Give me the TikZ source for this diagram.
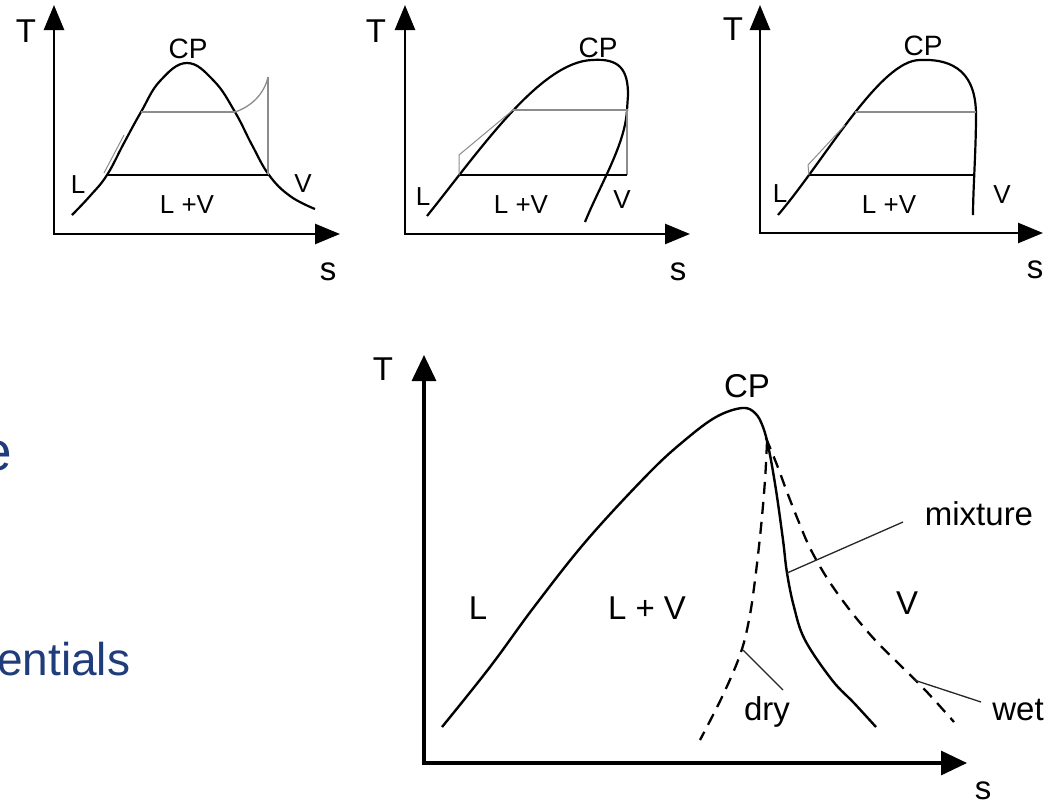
\documentclass[tikz,border=0pt]{standalone}
\usepackage{fontspec}
\setmainfont{Liberation Sans}
\usetikzlibrary{arrows.meta}
\definecolor{navy}{HTML}{1F3D7A}
\definecolor{cyclegray}{gray}{0.55}
\tikzset{
  axis/.style={line width=2.6pt, {Triangle[width=20pt,length=25pt]}-{Triangle[width=20pt,length=25pt]}},
  bigaxis/.style={line width=3.2pt, {Triangle[width=24pt,length=26pt]}-{Triangle[width=24pt,length=26pt]}},
  dome/.style={line width=2.2pt, line join=round},
  bigdome/.style={line width=2.4pt, line join=round},
  gline/.style={line width=1.3pt, draw=cyclegray},
  hline/.style={line width=1.8pt},
  dashcurve/.style={line width=2.3pt, dash pattern=on 12pt off 8pt},
  leader/.style={line width=1.3pt, draw=black!85},
  axlbl/.style={font=\fontsize{33}{36}\selectfont, inner sep=0pt, anchor=base},
  cplbl/.style={font=\fontsize{28}{32}\selectfont, inner sep=0pt, anchor=base},
  rlbl/.style={font=\fontsize{26}{30}\selectfont, inner sep=0pt, anchor=base},
  biglbl/.style={font=\fontsize{33}{38}\selectfont, inner sep=0pt, anchor=base},
  sidetext/.style={text=navy, inner sep=0pt}
}
\begin{document}
\begin{tikzpicture}[x=1pt,y=-1pt]
\clip (0,0) rectangle (1062,806);
\fill[white] (0,0) rectangle (1062,806);

% ---------- left slide text (cut off at the left edge, as in the reference) ----------
\node[sidetext, font=\fontsize{55}{60}\selectfont, anchor=base east] (txte) at (12,470) {e};
\node[sidetext, font=\fontsize{46}{52}\selectfont, anchor=base west] (txtent) at (-3,675) {entials};

% ---------- panel 1 ----------
\coordinate (t1) at (54,5);
\coordinate (o1) at (54,234);
\coordinate (s1) at (340,234);
\draw[axis] (t1) -- (o1) -- (s1);
\draw[dome] plot[smooth, tension=0.7] coordinates {(72,215) (90,196) (107,175) (124,143) (141,112) (160,81) (187,63) (214,81) (235,112) (252,145) (269,175) (290,196) (315,209)};
\coordinate (a1) at (107,175);
\coordinate (b1) at (141,112);
\coordinate (c1) at (235,112);
\coordinate (d1) at (268,77);
\coordinate (e1) at (268,175);
\draw[gline] (b1) -- (c1);
\draw[gline] (c1) .. controls (250,107) and (264,95) .. (d1);
\draw[gline] (d1) -- (e1);
\draw[hline] (a1) -- (e1);
\draw[gline, line width=1pt] (104,173) -- (124,135);
\node[axlbl] (T1) at (26,42) {T};
\node[axlbl] (S1) at (328,280) {s};
\node[cplbl] (CP1) at (188,58) {CP};
\node[rlbl] (L1) at (78,193) {L};
\node[rlbl] (V1) at (303,192) {V};
\node[rlbl] (LV1) at (187,213) {L +V};

% ---------- panel 2 ----------
\coordinate (t2) at (405,5);
\coordinate (o2) at (405,234);
\coordinate (s2) at (690,234);
\draw[axis] (t2) -- (o2) -- (s2);
\draw[dome] (427,216) .. controls (480,150) and (540,62) .. (592,60)
   .. controls (620,58) and (628,70) .. (628,95) -- (627,110)
   .. controls (625,145) and (600,185) .. (585,222);
\coordinate (a2) at (459,175);
\coordinate (b2) at (513,110);
\coordinate (c2) at (627,110);
\coordinate (e2) at (627,175);
\coordinate (f2) at (459,155);
\draw[gline] (b2) -- (c2) -- (e2);
\draw[hline] (a2) -- (e2);
\draw[gline, line width=1pt] (a2) -- (f2) -- (b2);
\node[axlbl] (T2) at (376,42) {T};
\node[axlbl] (S2) at (678,280) {s};
\node[cplbl] (CP2) at (598,57) {CP};
\node[rlbl] (L2) at (423,205) {L};
\node[rlbl] (LV2) at (521,213) {L +V};
\node[rlbl] (V2) at (622,208) {V};

% ---------- panel 3 ----------
\coordinate (t3) at (760,5);
\coordinate (o3) at (760,233);
\coordinate (s3) at (1043,233);
\draw[axis] (t3) -- (o3) -- (s3);
\draw[dome] (778,215) .. controls (825,160) and (880,60) .. (920,60)
   .. controls (965,58) and (976,85) .. (976,115)
   .. controls (976,150) and (973,190) .. (973,215);
\coordinate (a3) at (809,175);
\coordinate (b3) at (855,112);
\coordinate (c3) at (976,112);
\coordinate (e3) at (975,175);
\coordinate (f3) at (808,165);
\draw[gline] (b3) -- (c3);
\draw[hline] (a3) -- (e3);
\draw[gline, line width=1pt] (a3) -- (f3) -- (845,125);
\node[axlbl] (T3) at (733,40) {T};
\node[axlbl] (S3) at (1035,278) {s};
\node[cplbl] (CP3) at (923,55) {CP};
\node[rlbl] (L3) at (780,202) {L};
\node[rlbl] (LV3) at (889,213) {L +V};
\node[rlbl] (V3) at (1002,203) {V};

% ---------- big panel ----------
\coordinate (t4) at (424,355);
\coordinate (o4) at (424,763);
\coordinate (s4) at (967,763);
\draw[bigaxis] (t4) -- (o4) -- (s4);
\draw[bigdome] plot[smooth, tension=0.6] coordinates {(442,727) (490,667) (534,607) (587,540) (649,473) (685,440) (716,417) (742,408) (755,413) (763,427) (769,450) (776,490) (783,540) (787,573) (794,607) (805,640) (832,680) (854,703) (876,727)};
\draw[dashcurve] plot[smooth, tension=0.6] coordinates {(767,442) (765,480) (761,527) (755,580) (749,620) (740,655) (722,697) (700,740)};
\draw[dashcurve] plot[smooth, tension=0.6] coordinates {(766,438) (777,465) (787,492) (798,520) (810,548) (827,578) (849,609) (875,640) (900,665) (926,691) (954,722)};
\coordinate (mixA) at (787,573);
\coordinate (mixB) at (903,522);
\coordinate (dryA) at (743,650);
\coordinate (dryB) at (783,690);
\coordinate (wetA) at (914,680);
\coordinate (wetB) at (981,702);
\draw[leader] (mixA) -- (mixB);
\draw[leader] (dryA) -- (dryB);
\draw[leader] (wetA) -- (wetB);
\node[biglbl] (T4) at (383,380) {T};
\node[biglbl] (S4) at (983,799) {s};
\node[biglbl] (CP4) at (747,397) {CP};
\node[biglbl] (L4) at (478,619) {L};
\node[biglbl] (LV4) at (647,619) {L + V};
\node[biglbl] (V4) at (907,614) {V};
\node[biglbl] (MIX) at (979,525) {mixture};
\node[biglbl] (DRY) at (767,720) {dry};
\node[biglbl] (WET) at (1018,720) {wet};
\end{tikzpicture}
\end{document}
